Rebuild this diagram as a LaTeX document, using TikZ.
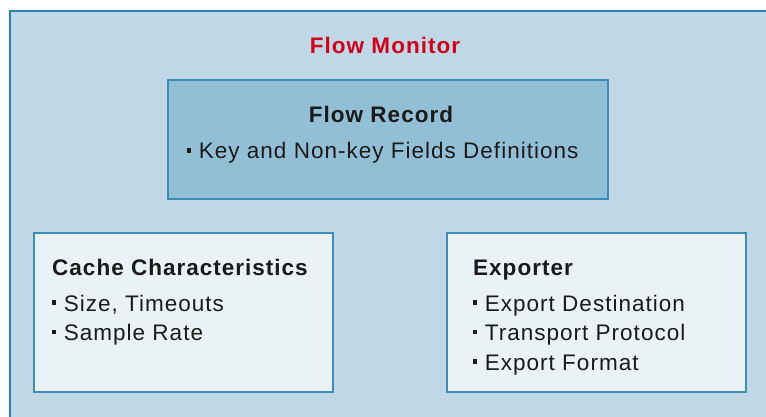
\documentclass[tikz,border=0pt]{standalone}
\usepackage{fontspec}
\setmainfont{Liberation Sans}[LetterSpace=4.5]
\usetikzlibrary{positioning}
\definecolor{monitorfill}{HTML}{C0D8E6}
\definecolor{monitorline}{HTML}{2A83B0}
\definecolor{recordfill}{HTML}{93BFD6}
\definecolor{paperfill}{HTML}{EAF2F6}
\definecolor{boxline}{HTML}{3D8DB8}
\definecolor{titlered}{HTML}{D0021B}
\definecolor{inkblack}{HTML}{1A1A1A}
\newcommand{\sqb}{\rule[0.28em]{0.19em}{0.19em}\hspace{0.33em}}

\begin{document}
\begin{tikzpicture}[
  x=1pt, y=-1pt,
  every node/.style={
    inner sep=0pt,
    text=inkblack,
    font=\fontsize{22.5}{29.5}\selectfont
  },
  box/.style={
    draw=boxline,
    line width=1.5pt,
    minimum height=159,
    minimum width=299
  },
  head/.style={anchor=base west, font=\fontsize{22.5}{29.5}\selectfont\bfseries},
  item/.style={anchor=base west},
]

\useasboundingbox (0,0) rectangle (766,417);

% outer frame, runs off the right and bottom edges
\draw[fill=monitorfill, draw=monitorline, line width=2pt] (10,11) rectangle (790,440);
\node[anchor=base, text=titlered, font=\fontsize{22.5}{29.5}\selectfont\bfseries] (monitor) at (385,54) {Flow Monitor};

% boxes
\node[box, fill=recordfill, minimum width=440, minimum height=119] (record) at (388,139.5) {};
\node[box, fill=paperfill] (cache) at (183.5,312.5) {};
\node[box, fill=paperfill] (exporter) at (596.5,312.5) {};

% texts
\node[anchor=base, font=\fontsize{22.5}{29.5}\selectfont\bfseries] (recordhead) at (381,123) {Flow Record};
\node[anchor=base west] (record-1) at (187,159) {\sqb Key and Non-key Fields Definitions};

\node[head] (cachehead) at (52,275) {Cache Characteristics};
\foreach \txt [count=\i] in {{Size, Timeouts}, Sample Rate}
  \node[item] (cache-\i) at (52,281.5+29.5*\i) {\sqb\txt};

\node[head] (exporterhead) at (473,275) {Exporter};
\foreach \txt [count=\i] in {Export Destination, Transport Protocol, Export Format}
  \node[item] (exporter-\i) at (473,281.5+29.5*\i) {\sqb\txt};

\end{tikzpicture}
\end{document}
